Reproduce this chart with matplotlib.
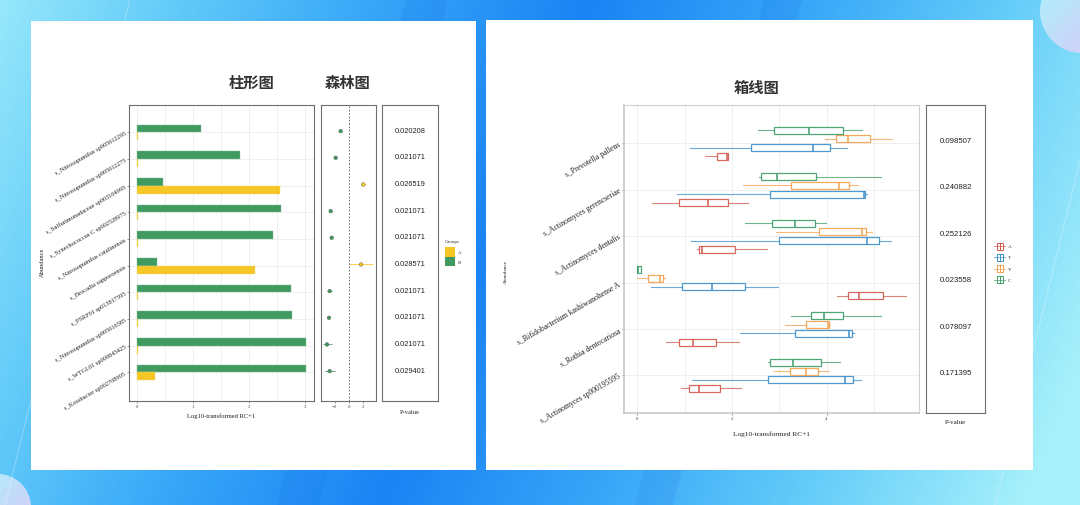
import numpy as np
import matplotlib
matplotlib.use("Agg")
import matplotlib.pyplot as plt
from matplotlib.patches import Rectangle, Polygon, Circle
from matplotlib.colors import LinearSegmentedColormap
from matplotlib.transforms import blended_transform_factory

W, H = 1080, 506

# ---- left card: abundance bars, forest plot, p-values -------------------
bar_species = ["s_Nitrosopumilus sp905612295", "s_Nitrosopumilus sp905612275",
               "s_Sulfurimonadaceae sp003104995", "s_Synechococcus C sp002528975",
               "s_Nitrosopumilus catalinensis", "s_Brocadia sapporoensis",
               "s_PSRF01 sp013817595", "s_Nitrosopumilus sp905616585",
               "s_WTGL01 sp009845425", "s_Kossbacter sp002708905"]
abund_B = [1.14, 1.83, 0.46, 2.57, 2.43, 0.36, 2.74, 2.76, 3.02, 3.01]
abund_A = [0.01, 0.01, 2.55, 0.01, 0.01, 2.11, 0.01, 0.01, 0.01, 0.31]
effect = [-1.15, -1.85, 1.99, -2.54, -2.40, 1.67, -2.68, -2.78, -3.06, -2.68]
effect_lo = [-1.25, -1.95, 1.60, -2.70, -2.50, 0.00, -3.00, -2.93, -3.56, -3.37]
effect_hi = [-1.05, -1.75, 2.40, -2.40, -2.30, 3.40, -2.35, -2.63, -2.36, -2.00]
effect_group = ["B", "B", "A", "B", "B", "A", "B", "B", "B", "B"]
bar_pvals = ["0.020208", "0.021071", "0.026519", "0.021071", "0.021071",
             "0.028571", "0.021071", "0.021071", "0.021071", "0.029401"]

# ---- right card: boxplots (whislo, q1, median, q3, whishi) --------------
box_species = ["s_Prevotella pallens", "s_Actinomyces gerencseriae",
               "s_Actinomyces dentalis", "s_Bifidobacterium kashiwanohense A",
               "s_Rothia dentocariosa", "s_Actinomyces sp000195595"]
box_A = [[1.43, 1.68, 1.89, 1.92, 1.92], [0.31, 0.89, 1.49, 1.91, 2.33],
         [1.27, 1.31, 1.37, 2.07, 2.75], [4.21, 4.45, 4.69, 5.18, 5.67],
         [0.61, 0.89, 1.18, 1.66, 2.14], [0.92, 1.10, 1.30, 1.75, 2.19]]
box_T = [[1.11, 2.41, 3.72, 4.08, 4.43], [0.84, 2.81, 4.79, 4.82, 4.85],
         [1.14, 3.00, 4.85, 5.11, 5.36], [0.30, 0.94, 1.57, 2.28, 2.97],
         [2.18, 3.34, 4.48, 4.54, 4.58], [1.15, 2.77, 4.38, 4.56, 4.73]]
box_Y = [[3.96, 4.20, 4.46, 4.92, 5.37], [2.24, 3.24, 4.25, 4.47, 4.66],
         [2.93, 3.84, 4.74, 4.84, 4.95], [0.00, 0.23, 0.48, 0.54, 0.59],
         [3.12, 3.57, 4.02, 4.04, 4.06], [2.89, 3.23, 3.57, 3.81, 4.04]]
box_C = [[2.56, 2.89, 3.63, 4.35, 4.74], [2.57, 2.61, 2.96, 3.77, 5.15],
         [2.28, 2.84, 3.34, 3.75, 3.98], [0.00, 0.00, 0.01, 0.08, 0.08],
         [3.25, 3.67, 3.95, 4.35, 5.15], [2.77, 2.81, 3.28, 3.87, 4.29]]
box_pvals = ["0.098507", "0.240882", "0.252126", "0.023558", "0.078097", "0.171395"]

col_A, col_B = "#f5c626", "#419a60"
box_groups = [("A", box_A, "#d2594e"), ("T", box_T, "#3b8fca"),
              ("Y", box_Y, "#f3a04d"), ("C", box_C, "#3d9c68")]

SERIF = "Liberation Serif"
SANS = "Liberation Sans"
CJK = "Noto Sans CJK SC"
plt.rcParams["font.family"] = [SERIF, "DejaVu Sans"]

fig = plt.figure(figsize=(W / 100, H / 100), dpi=100)

def rect(x0, y0, x1, y1):
    return [x0 / W, 1 - y1 / H, (x1 - x0) / W, (y1 - y0) / H]

# ---- background ---------------------------------------------------------
bg = fig.add_axes([0, 0, 1, 1], zorder=-10)
xx, yy = np.meshgrid(np.arange(W), np.arange(H))
d = np.clip(np.abs(xx + 0.415 * yy - 590) / 640, 0, 1)
cmap = LinearSegmentedColormap.from_list(
    "bg", ["#1a84f4", "#36a6f8", "#66cdf9", "#a6f0fb"])
bg.imshow(d, cmap=cmap, extent=(0, W, H, 0), aspect="auto", vmin=0, vmax=1)
for x0, w in [(406, 42), (764, 38)]:
    bg.add_patch(Polygon([(x0, 0), (x0 + w, 0), (x0 + w - 129, H), (x0 - 129, H)],
                         closed=True, color="#1560e0", alpha=0.12, lw=0))
for x0 in [130, 1120]:
    bg.plot([x0, x0 - 125], [0, H], color="white", alpha=0.35, lw=0.6)
for (cx, cy, r) in [(1082, 12, 42), (-2, 508, 33)]:
    circ = Circle((cx, cy), r, transform=bg.transData)
    g = np.linspace(0, 1, 64)
    gx, gy = np.meshgrid(g, g)
    im = bg.imshow(gx + gy, cmap=LinearSegmentedColormap.from_list(
        "c", ["#a8f4fb", "#dcc6f8"]), extent=(cx - r, cx + r, cy + r, cy - r),
        aspect="auto")
    im.set_clip_path(circ)
bg.add_patch(Rectangle((31, 22), 445, 449, color="white", lw=0))
bg.add_patch(Rectangle((486, 21), 547, 450, color="white", lw=0))
bg.set_xlim(0, W)
bg.set_ylim(H, 0)
bg.axis("off")

def frame(ax, grid=True):
    for s in ax.spines.values():
        s.set_color("#6e6e6e")
        s.set_linewidth(0.8)
    ax.tick_params(colors="#6e6e6e", labelcolor="#444444", labelsize=3.5,
                   length=1.5, width=0.5, pad=1)
    ax.set_facecolor("white")

# ---- left: bar chart ----------------------------------------------------
n = len(bar_species)
y = np.arange(n)
ax1 = fig.add_axes(rect(129, 106, 314, 402))
ax1.barh(y - 0.145, abund_B, height=0.29, color=col_B, edgecolor="#7cbf92", lw=0.3)
ax1.barh(y + 0.145, abund_A, height=0.29, color=col_A, edgecolor="#f7d870", lw=0.3)
ax1.set_xlim(-0.148, 3.16)
ax1.set_ylim(n - 1 + 1.07, -1.03)
ax1.set_xticks([0, 1, 2, 3])
ax1.set_xticks([0.5, 1.5, 2.5], minor=True)
ax1.set_yticks(y)
ax1.set_yticklabels(bar_species, rotation=30, ha="right", va="center",
                    rotation_mode="anchor")
frame(ax1)
ax1.tick_params(axis="y", labelsize=4.6, labelcolor="#222222")
ax1.tick_params(which="minor", length=0)
ax1.grid(True, which="both", color="#ececec", lw=0.6)
ax1.set_axisbelow(True)
ax1.set_xlabel("Log10-transformed RC+1", fontsize=4.7, color="#222222", labelpad=3)
bg.text(42.7, 262, "Abundance", rotation=90, ha="center", va="center",
        fontsize=4.6, color="#222222")

# ---- left: forest plot --------------------------------------------------
ax2 = fig.add_axes(rect(320.7, 106, 376, 402))
fcol = [col_A if g == "A" else col_B for g in effect_group]
for i in range(n):
    ax2.errorbar(effect[i], y[i] - 0.05,
                 xerr=[[effect[i] - effect_lo[i]], [effect_hi[i] - effect[i]]],
                 fmt="none", ecolor=fcol[i], alpha=0.8, lw=0.7, capsize=0)
ax2.scatter(effect, y - 0.05, s=7, c=fcol, edgecolors="#555555", linewidths=0.3,
            zorder=3)
ax2.axvline(0, ls=(0, (2, 2)), color="#555555", lw=0.6)
ax2.set_xlim(-3.93, 3.75)
ax2.set_ylim(n - 1 + 1.07, -1.03)
ax2.set_xticks([-2, 0, 2])
ax2.set_yticks([])
frame(ax2)

# ---- left: p-values -----------------------------------------------------
ax3 = fig.add_axes(rect(382.3, 106, 437.7, 402))
ax3.set_ylim(n - 1 + 1.07, -1.03)
tr = blended_transform_factory(ax3.transAxes, ax3.transData)
for i, p in enumerate(bar_pvals):
    ax3.text(0.5, y[i] - 0.08, p, transform=tr, ha="center", va="center",
             fontsize=5.3, family=SANS, color="#222222")
ax3.set_xticks([])
ax3.set_yticks([])
frame(ax3)
ax3.set_xlabel("P-value", fontsize=4.7, color="#222222", labelpad=6)

# left legend
bg.text(445, 242.5, "Groups", fontsize=3.6, color="#333333", va="center")
for k, (lab, c) in enumerate([("A", col_A), ("B", col_B)]):
    bg.add_patch(Rectangle((445, 248 + k * 9.5), 10, 9.5, color=c, lw=0))
    bg.text(458, 253 + k * 9.5, lab, fontsize=3.6, color="#333333", va="center")

bg.text(252, 83, "柱形图", family=[CJK, "DejaVu Sans"], fontsize=11,
        fontweight="bold", color="#333333", ha="center", va="center")
bg.text(348, 83, "森林图", family=[CJK, "DejaVu Sans"], fontsize=11,
        fontweight="bold", color="#333333", ha="center", va="center")

# ---- right: boxplots ----------------------------------------------------
m = len(box_species)
yb = np.arange(m)
ax4 = fig.add_axes(rect(624, 106, 919, 414))
offsets = [0.281, 0.094, -0.094, -0.281]
for (lab, data, c), off in zip(box_groups, offsets):
    stats = [dict(whislo=s[0], q1=s[1], med=s[2], q3=s[3], whishi=s[4], fliers=[])
             for s in data]
    ax4.bxp(stats, positions=yb + off, widths=0.15, orientation="horizontal",
            showcaps=False, showfliers=False, patch_artist=True,
            boxprops=dict(facecolor="white", edgecolor=c, lw=0.9, alpha=0.9),
            medianprops=dict(color=c, lw=1.1),
            whiskerprops=dict(color=c, lw=0.8, alpha=0.75),
            manage_ticks=False)
ax4.set_xlim(-0.28, 5.95)
ax4.set_ylim(m - 1 + 0.81, -0.825)
ax4.set_xticks([0, 2, 4])
ax4.set_xticks([1, 3, 5], minor=True)
ax4.set_yticks(yb)
ax4.set_yticklabels(box_species, rotation=30, ha="right", va="center",
                    rotation_mode="anchor")
frame(ax4)
ax4.spines["left"].set_color("#c8c8c8")
ax4.spines["left"].set_linewidth(1.2)
ax4.spines["bottom"].set_color("#c8c8c8")
ax4.spines["bottom"].set_linewidth(1.2)
ax4.spines["top"].set_color("#d0d0d0")
ax4.spines["right"].set_color("#d0d0d0")
ax4.tick_params(axis="y", labelsize=5.6, labelcolor="#222222", pad=1.5)
ax4.tick_params(which="minor", length=0)
ax4.grid(True, which="both", color="#ececec", lw=0.6)
ax4.set_axisbelow(True)
ax4.set_xlabel("Log10-transformed RC+1", fontsize=5.3, color="#222222", labelpad=7)
bg.text(505.7, 272, "Abundance", rotation=90, ha="center", va="center",
        fontsize=3.8, color="#222222")

ax5 = fig.add_axes(rect(926, 106, 985.3, 414))
ax5.set_ylim(m - 1 + 0.81, -0.825)
tr5 = blended_transform_factory(ax5.transAxes, ax5.transData)
for i, p in enumerate(box_pvals):
    ax5.text(0.5, yb[i] - 0.06, p, transform=tr5, ha="center", va="center",
             fontsize=5.6, family=SANS, color="#222222")
ax5.set_xticks([])
ax5.set_yticks([])
frame(ax5)
ax5.set_xlabel("P-value", fontsize=5, color="#222222", labelpad=4)

# right legend (box glyphs)
for k, (lab, data, c) in enumerate(box_groups):
    yc = 247 + k * 11.3
    bg.plot([994, 1005], [yc, yc], color=c, lw=0.6, alpha=0.8)
    bg.add_patch(Rectangle((996.5, yc - 3.5), 6, 7, facecolor="white",
                           edgecolor=c, lw=0.7))
    bg.plot([999.5, 999.5], [yc - 3.5, yc + 3.5], color=c, lw=0.7)
    bg.text(1008, yc, lab, fontsize=3.8, color="#333333", va="center")

bg.text(757, 88, "箱线图", family=[CJK, "DejaVu Sans"], fontsize=11,
        fontweight="bold", color="#333333", ha="center", va="center")

fig.savefig("out.png", dpi=100)
